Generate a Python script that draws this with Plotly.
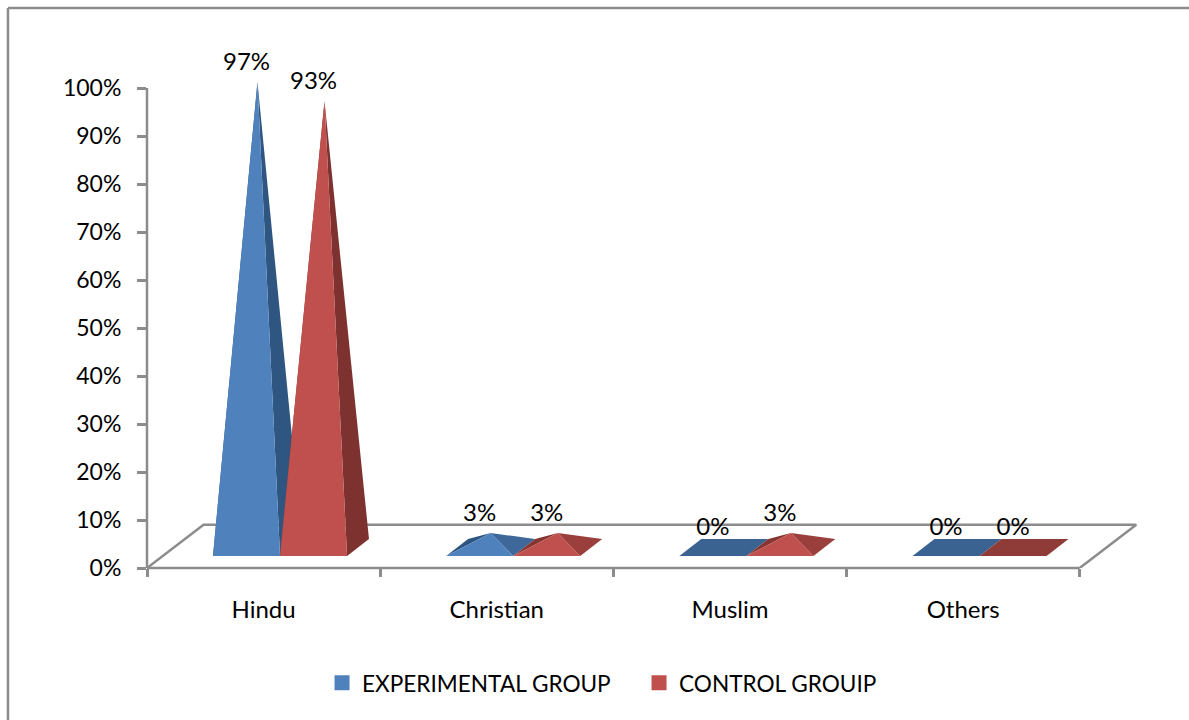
import plotly.graph_objects as go

# Chart data
categories = ["Hindu", "Christian", "Muslim", "Others"]
experimental = [97, 3, 0, 0]
control = [93, 3, 3, 0]
series_names = ["EXPERIMENTAL GROUP", "CONTROL GROUIP"]
y_ticks = list(range(0, 101, 10))

# Oblique projection of the floor and of each pyramid's square base, in axis units
FLOOR_DX, FLOOR_DY = 0.2425, 9.0
GROUP_START, BASE_W = 0.283, 0.2875
BASE_Y, BASE_DX, BASE_DY = 2.5, 0.094, 3.55

# Axis windows leave headroom so the floor and the tallest apex are not clipped
X_MAX, Y_MAX = 4.25, 110

FONT = "Lato, Carlito, Calibri, sans-serif"
GREY = "#8C8C8C"
LINE_W = 2.5

palettes = [
    dict(front="#4F81BD", tall="#2F5680", low_right="#3D6899", low_left="#2E5582", flat="#3B6391"),
    dict(front="#C0504D", tall="#7E3230", low_right="#9A3F3C", low_left="#873532", flat="#8F3C39"),
]


def face(xs, ys, color):
    return go.Scatter(
        x=xs + xs[:1], y=ys + ys[:1], mode="lines", fill="toself", fillcolor=color,
        line=dict(width=0), hoverinfo="skip", showlegend=False,
    )


def pyramid(cat, slot, value, pal):
    """Faces of one pyramid, painted from back to front."""
    x0 = cat + GROUP_START + slot * BASE_W
    x1 = x0 + BASE_W
    y0 = BASE_Y
    y1 = BASE_Y + BASE_DY
    apex_x = (x0 + x1 + BASE_DX) / 2
    apex_y = (y0 + y1) / 2 + value
    if value == 0:
        return [face([x0, x1, x1 + BASE_DX, x0 + BASE_DX], [y0, y0, y1, y1], pal["flat"])]
    right = pal["tall"] if value > 50 else pal["low_right"]
    return [
        face([x0, x0 + BASE_DX, apex_x], [y0, y1, apex_y], pal["low_left"]),
        face([x1, x1 + BASE_DX, apex_x], [y0, y1, apex_y], right),
        face([x0, x1, apex_x], [y0, y0, apex_y], pal["front"]),
    ]


fig = go.Figure()

# Floor outline behind the pyramids
fig.add_trace(go.Scatter(
    x=[0, FLOOR_DX, len(categories) + FLOOR_DX, len(categories)],
    y=[0, FLOOR_DY, FLOOR_DY, 0],
    mode="lines", line=dict(color=GREY, width=LINE_W),
    hoverinfo="skip", showlegend=False,
))

for i in range(len(categories)):
    for slot, values in enumerate([experimental, control]):
        for trace in pyramid(i, slot, values[i], palettes[slot]):
            fig.add_trace(trace)

# Value labels above each apex
for slot, values in enumerate([experimental, control]):
    fig.add_trace(go.Scatter(
        x=[i + GROUP_START + (slot + 0.5) * BASE_W for i in range(len(categories))],
        y=[BASE_Y + BASE_DY / 2 + v + 3.8 for v in values],
        mode="text", text=[f"{v}%" for v in values], textposition="middle center",
        textfont=dict(family=FONT, size=24, color="#000000"),
        hoverinfo="skip", showlegend=False, cliponaxis=False,
    ))

# Legend swatches
for name, pal in zip(series_names, palettes):
    fig.add_trace(go.Scatter(
        x=[None], y=[None], mode="markers", name=name,
        marker=dict(symbol="square", size=15, color=pal["front"]),
    ))

W, H = 1189, 720
L, B = 147, 568
UNIT_X, UNIT_Y = 233.125, 4.8
R = L + X_MAX * UNIT_X
T = B - Y_MAX * UNIT_Y
px = lambda v: (v - L) / (R - L)
py = lambda v: (B - v) / (B - T)

fig.update_layout(
    width=W, height=H, autosize=False,
    margin=dict(l=L, r=W - R, t=T, b=H - B, pad=0),
    paper_bgcolor="#FFFFFF", plot_bgcolor="rgba(0,0,0,0)",
    font=dict(family=FONT, size=24, color="#000000"),
    xaxis=dict(
        range=[0, X_MAX], tickmode="array",
        tickvals=[i + 0.5 for i in range(len(categories))], ticktext=categories,
        ticks="", showgrid=False, zeroline=False, showline=False,
        ticklabelstandoff=25, tickfont=dict(family=FONT, size=24),
        minor=dict(ticks="outside", tick0=0, dtick=1, ticklen=8, tickwidth=LINE_W,
                   tickcolor=GREY, showgrid=False),
    ),
    yaxis=dict(
        range=[0, Y_MAX], tickmode="array", tickvals=y_ticks,
        ticktext=[f"{v}%" for v in y_ticks],
        ticks="outside", ticklen=9, tickwidth=LINE_W, tickcolor=GREY,
        showgrid=False, zeroline=False, showline=False,
        ticklabelstandoff=11, tickfont=dict(family=FONT, size=23),
    ),
    legend=dict(
        orientation="h", xanchor="left", yanchor="middle",
        x=px(322), y=py(683), font=dict(family=FONT, size=22.6, color="#000000"),
        bgcolor="rgba(0,0,0,0)", entrywidth=272, entrywidthmode="pixels",
    ),
    shapes=[
        # Visible axis lines stop at the last tick, short of the headroom
        dict(type="line", xref="x", yref="paper", x0=0, x1=len(categories), y0=0, y1=0,
             line=dict(color=GREY, width=LINE_W)),
        dict(type="line", xref="paper", yref="y", x0=0, x1=0, y0=0, y1=100,
             line=dict(color=GREY, width=LINE_W)),
        # Outer chart frame, open on the right and bottom edges
        dict(type="line", xref="paper", yref="paper", x0=px(8), x1=px(8), y0=py(8), y1=py(H),
             line=dict(color=GREY, width=LINE_W)),
        dict(type="line", xref="paper", yref="paper", x0=px(8), x1=px(W), y0=py(8), y1=py(8),
             line=dict(color=GREY, width=LINE_W)),
    ],
)

fig.write_html("out.html")
